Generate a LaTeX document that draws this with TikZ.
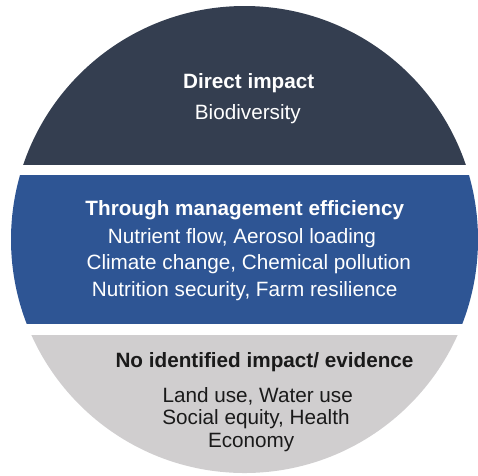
\documentclass[tikz,border=0pt]{standalone}
\usepackage{fontspec}
\setmainfont{Liberation Sans}
\definecolor{topband}{HTML}{343E50}
\definecolor{midband}{HTML}{2E5594}
\definecolor{lowband}{HTML}{D0CECF}
\definecolor{lowtext}{HTML}{1A1A1A}
\begin{document}
\begin{tikzpicture}[x=1pt,y=-1pt,
  txt/.style={anchor=base,inner sep=0pt,font=\fontsize{20.7}{24}\selectfont},
  head/.style={anchor=base,inner sep=0pt,font=\fontsize{20.7}{24}\selectfont\bfseries},
  light/.style={text=white},
  dark/.style={text=lowtext}]
\useasboundingbox (0,0) rectangle (478,475);
% three horizontal bands cut out of one disc
\begin{scope}
  \clip (244.5,239.5) circle[radius=233.5pt];
  \fill[topband] (0,0) rectangle (478,165);
  \fill[midband] (0,175) rectangle (478,323.5);
  \fill[lowband] (0,335) rectangle (478,480);
\end{scope}
% top band
\node[head,light] (direct) at (248.7,88) {Direct impact};
\node[txt,light] (bio) at (247.8,119) {Biodiversity};
% middle band
\node[head,light] (mgmt) at (244.8,215) {Through management efficiency};
\node[txt,light] (nut) at (242,243) {Nutrient flow, Aerosol loading};
\node[txt,light] (clim) at (248.8,269.5) {Climate change, Chemical pollution};
\node[txt,light] (nutr) at (244.7,296) {Nutrition security, Farm resilience};
% bottom band
\node[head,dark] (none) at (264.5,367.7) {No identified impact/ evidence};
\node[txt,dark] (land) at (257.7,402.7) {Land use, Water use};
\node[txt,dark] (soc) at (256,424.5) {Social equity, Health};
\node[txt,dark] (eco) at (251.2,447.5) {Economy};
\end{tikzpicture}
\end{document}
